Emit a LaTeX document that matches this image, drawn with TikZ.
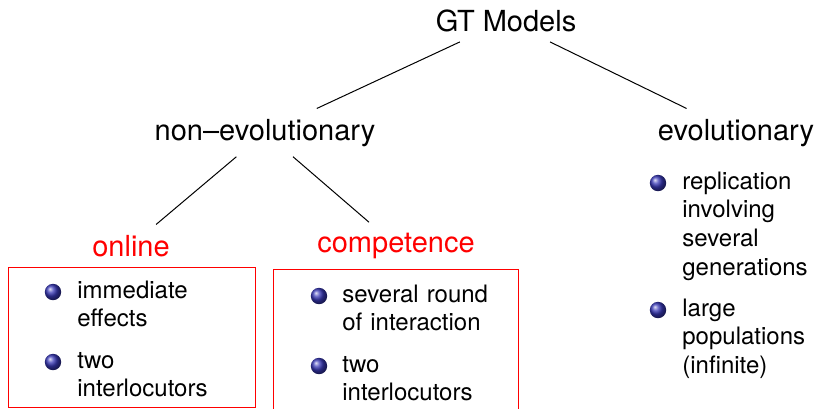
\documentclass[tikz,border=0pt]{standalone}
\usepackage{fontspec}
\setmainfont{TeX Gyre Heros}
\definecolor{bulletblue}{rgb}{0.22,0.22,0.72}

\begin{document}
\begin{tikzpicture}[%
        x=0.5pt, y=-0.5pt,
        every node/.style={inner sep=0pt},
        catnode/.style={font=\fontsize{14.5}{17}\selectfont, inner sep=5pt, anchor=base},
        subnode/.style={catnode, text=red},
        listitem/.style={font=\fontsize{12}{14.4}\selectfont, anchor=base west,
                         text width=80pt, align=left},
        bulletball/.style={circle, minimum size=8.2pt, shading=ball, ball color=bulletblue},
        branch/.style={line width=0.5pt},
        redbox/.style={draw=red, line width=0.5pt}
        ]
        \clip (0,0) rectangle (815,408);
        % tree
        \node[catnode] (gt) at (506,31) {GT Models};
        \node[catnode] (noevo) at (265,140) {non–evolutionary};
        \node[catnode] (evo) at (736,140) {evolutionary};
        \node[subnode] (online) at (131,256) {online};
        \node[subnode] (compet) at (396,252) {competence};
        \draw[branch] (gt) -- (noevo);
        \draw[branch] (gt) -- (evo);
        \draw[branch] (noevo) -- (online);
        \draw[branch] (noevo) -- (compet);
        % boxes
        \draw[redbox] (8,267) rectangle (255,407);
        \draw[redbox] (273,269) rectangle (518,430);
        % online
        \node[bulletball] (bon1) at (53,292) {};
        \node[listitem] (on1) at (77,298) {immediate\\effects};
        \node[bulletball] (bon2) at (53,362) {};
        \node[listitem] (on2) at (77,368) {two\\interlocutors};
        % competence
        \node[bulletball] (bco1) at (319,296) {};
        \node[listitem] (co1) at (342,302) {several round\\of interaction};
        \node[bulletball] (bco2) at (319,366) {};
        \node[listitem] (co2) at (342,372) {two\\interlocutors};
        % evolutionary
        \node[bulletball] (bev1) at (658,183) {};
        \node[listitem] (ev1) at (682,189) {replication\\involving\\several\\generations};
        \node[bulletball] (bev2) at (658,310) {};
        \node[listitem] (ev2) at (682,316) {large\\populations\\(infinite)};
\end{tikzpicture}
\end{document}
